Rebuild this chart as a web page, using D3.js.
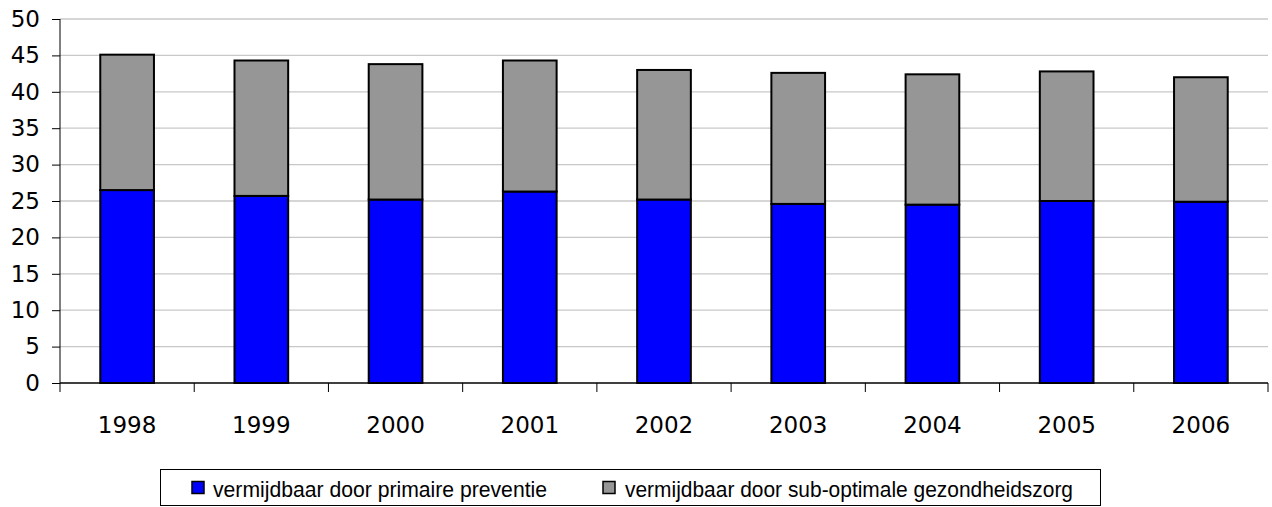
<!DOCTYPE html>
<html><head><meta charset="utf-8">
<script src="https://cdn.jsdelivr.net/npm/d3@7"></script>
<style>body{margin:0;background:#fff}svg{display:block}</style>
</head><body><svg id="c" width="1272" height="507"></svg>
<script>
const years = ["1998","1999","2000","2001","2002","2003","2004","2005","2006"];
const primaire = [26.5,25.7,25.2,26.3,25.2,24.6,24.5,25.0,24.9];
const subOptimaal = [18.6,18.6,18.6,18.0,17.8,18.0,17.9,17.8,17.1];
const seriesNames = ["vermijdbaar door primaire preventie","vermijdbaar door sub-optimale gezondheidszorg"];
const colors = ["#0000ff","#969696"];
const yTicks = [0,5,10,15,20,25,30,35,40,45,50];

const svg = d3.select("#c");
const L=60,R=1268,T=19,B=383;
const x = d3.scaleBand().domain(years).range([L,R]).paddingInner(0.6).paddingOuter(0.3);
const xb = d3.scaleBand().domain(years).range([L,R]);
const y = d3.scaleLinear().domain([0,50]).range([B,T]);
const font = "'DejaVu Sans', Verdana, sans-serif";
const lfont = "'Liberation Sans', Arial, sans-serif";

// gridlines
svg.append("g").selectAll("line").data(yTicks.filter(d=>d>0)).join("line")
  .attr("x1",L).attr("x2",R).attr("y1",d=>y(d)).attr("y2",d=>y(d))
  .attr("stroke","#c8c8c8").attr("stroke-width",1.3);

const rows = years.map((yr,i)=>({year:yr, p:primaire[i], s:subOptimaal[i]}));
const stack = d3.stack().keys(["p","s"])(rows);
svg.append("g").selectAll("g").data(stack).join("g")
  .attr("fill",(d,i)=>colors[i])
  .selectAll("rect").data(d=>d).join("rect")
  .attr("x",d=>x(d.data.year)).attr("width",x.bandwidth())
  .attr("y",d=>y(d[1])).attr("height",d=>y(d[0])-y(d[1]))
  .attr("stroke","#000").attr("stroke-width",2);

// y axis
const ya = svg.append("g").attr("transform",`translate(${L},0)`)
  .call(d3.axisLeft(y).tickValues(yTicks).tickSize(8).tickPadding(12));
ya.select(".domain").attr("stroke","#000").attr("d",`M0,${T}V${B}`);
ya.selectAll(".tick line").attr("stroke","#000");
ya.selectAll("text").attr("font-family",font).attr("font-size",23).attr("fill","#000");

// x axis
const xa = svg.append("g").attr("transform",`translate(0,${B})`);
xa.append("line").attr("x1",L).attr("x2",R).attr("stroke","#000").attr("stroke-width",1.3);
xa.selectAll("line.t").data(years.concat(["end"])).join("line").attr("class","t")
  .attr("x1",(d,i)=>i<years.length?xb(d):R).attr("x2",(d,i)=>i<years.length?xb(d):R)
  .attr("y1",0).attr("y2",9).attr("stroke","#000");
xa.selectAll("text").data(years).join("text")
  .attr("x",d=>xb(d)+xb.bandwidth()/2).attr("y",50).attr("text-anchor","middle")
  .attr("font-family",font).attr("font-size",23).attr("fill","#000").text(d=>d);

// legend
const lg = svg.append("g");
lg.append("rect").attr("x",160.5).attr("y",469.5).attr("width",940).attr("height",36)
  .attr("fill","#fff").attr("stroke","#000");
const items = [{x:192,tx:213,w:334},{x:603,tx:625,w:448}];
items.forEach((it,i)=>{
  lg.append("rect").attr("x",it.x).attr("y",481.5).attr("width",12).attr("height",12)
    .attr("fill",colors[i]).attr("stroke","#000").attr("stroke-width",1.5);
  lg.append("text").attr("x",it.tx).attr("y",497).attr("font-family",lfont).attr("font-size",22)
    .attr("textLength",it.w).attr("lengthAdjust","spacingAndGlyphs").attr("fill","#000").text(seriesNames[i]);
});
</script></body></html>
